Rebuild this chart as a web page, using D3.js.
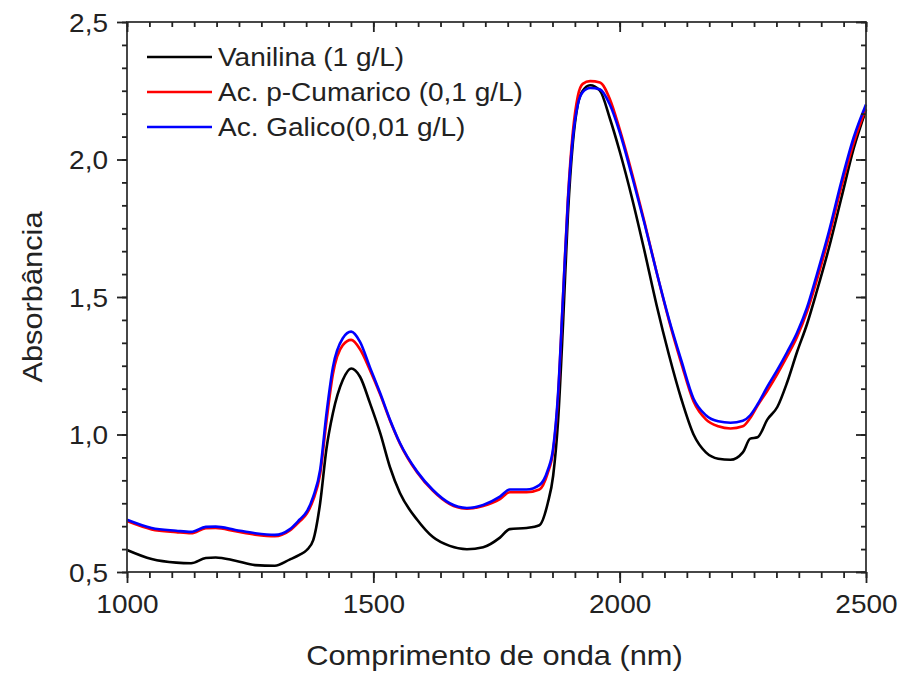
<!DOCTYPE html>
<html>
<head>
<meta charset="utf-8">
<script src="https://cdn.jsdelivr.net/npm/d3@7"></script>
<style>
	body { margin: 0; background: #fff; }
	text { font-family: "Liberation Sans", Arial, sans-serif; fill: #222; }
</style>
</head>
<body>
<div id="chart-area"></div>
<script>
// spectra (nm -> absorbance)
const wavelength = [1000, 1050, 1100, 1130, 1160, 1180, 1220, 1260, 1300, 1330, 1350, 1365, 1378, 1392, 1405, 1418, 1438, 1455, 1473, 1493, 1514, 1534, 1554, 1589, 1621, 1655, 1690, 1723, 1757, 1777, 1811, 1837, 1854, 1865, 1875, 1885, 1895, 1905, 1915, 1925, 1940, 1960, 1980, 2000, 2025, 2050, 2075, 2100, 2125, 2150, 2175, 2200, 2225, 2250, 2265, 2280, 2300, 2320, 2340, 2360, 2380, 2400, 2425, 2450, 2475, 2500];
const vanilina = [0.58, 0.547, 0.534, 0.532, 0.551, 0.553, 0.541, 0.525, 0.523, 0.545, 0.562, 0.58, 0.616, 0.75, 0.95, 1.078, 1.198, 1.24, 1.21, 1.115, 1.005, 0.88, 0.787, 0.69, 0.627, 0.595, 0.583, 0.59, 0.625, 0.656, 0.66, 0.67, 0.75, 0.85, 1.05, 1.4, 1.8, 2.06, 2.2, 2.25, 2.27, 2.25, 2.15, 2.03, 1.86, 1.67, 1.47, 1.29, 1.13, 1.0, 0.935, 0.912, 0.908, 0.935, 0.985, 0.99, 1.055, 1.1, 1.19, 1.3, 1.4, 1.52, 1.68, 1.86, 2.04, 2.18];
const cumarico = [0.685, 0.655, 0.645, 0.641, 0.659, 0.66, 0.648, 0.636, 0.63, 0.65, 0.683, 0.712, 0.762, 0.855, 1.05, 1.22, 1.325, 1.344, 1.31, 1.235, 1.145, 1.05, 0.967, 0.862, 0.795, 0.747, 0.73, 0.74, 0.765, 0.79, 0.79, 0.8, 0.86, 0.94, 1.14, 1.5, 1.86, 2.1, 2.23, 2.275, 2.285, 2.28, 2.22, 2.11, 1.95, 1.775, 1.59, 1.415, 1.26, 1.12, 1.055, 1.03, 1.022, 1.03, 1.06, 1.105, 1.16, 1.22, 1.285, 1.355, 1.445, 1.56, 1.72, 1.9, 2.06, 2.185];
const galico = [0.69, 0.66, 0.65, 0.646, 0.664, 0.665, 0.653, 0.641, 0.635, 0.655, 0.69, 0.72, 0.774, 0.871, 1.078, 1.245, 1.35, 1.374, 1.337, 1.245, 1.15, 1.053, 0.969, 0.865, 0.798, 0.75, 0.733, 0.744, 0.774, 0.8, 0.8, 0.816, 0.87, 0.95, 1.15, 1.5, 1.85, 2.08, 2.2, 2.245, 2.26, 2.255, 2.2, 2.1, 1.94, 1.77, 1.59, 1.42, 1.27, 1.13, 1.07, 1.048, 1.043, 1.05, 1.07, 1.11, 1.175, 1.235, 1.3, 1.37, 1.46, 1.58, 1.74, 1.92, 2.08, 2.2];

const seriesNames = ["Vanilina (1 g/L)", "Ac. p-Cumarico (0,1 g/L)", "Ac. Galico(0,01 g/L)"];
const seriesValues = [vanilina, cumarico, galico];
const seriesColors = ["#000000", "#ff0000", "#0000ff"];

const xTicks = [1000, 1500, 2000, 2500];
const yTicks = [0.5, 1.0, 1.5, 2.0, 2.5];

const svgWidth = 921,
	svgHeight = 673;
const margin = {left: 127, right: 55, top: 22, bottom: 101};
const areaWidth = svgWidth - margin.left - margin.right;
const areaHeight = svgHeight - margin.top - margin.bottom;
const stretch = 1.12; // the source text is a bit wider than Arial

const svg = d3.select("#chart-area")
	.append("svg")
	.attr("width", svgWidth)
	.attr("height", svgHeight);

const area = svg.append("g")
	.attr("transform", `translate(${margin.left}, ${margin.top})`);

const x = d3.scaleLinear().domain([1000, 2500]).range([0, areaWidth]);
const y = d3.scaleLinear().domain([0.5, 2.5]).range([areaHeight, 0]);

const locale = d3.formatLocale({decimal: ",", thousands: ".", grouping: [3], currency: ["", ""]});
const yFormat = locale.format(".1f");

// minor ticks: 11 steps between x majors, 6 between y majors
const xMinor = d3.range(34).map(i => 1000 + i * 500 / 11);
const yMinor = d3.range(25).map(i => 0.5 + i / 12);

// curves first, frame and ticks on top
const lineGen = d3.line()
	.x(d => x(d[0]))
	.y(d => y(d[1]))
	.curve(d3.curveMonotoneX);

seriesValues.forEach((values, i) => {
	area.append("path")
		.datum(wavelength.map((w, j) => [w, values[j]]))
		.attr("fill", "none")
		.attr("stroke", seriesColors[i])
		.attr("stroke-width", 2.6)
		.attr("stroke-linejoin", "round")
		.attr("d", lineGen);
});

area.append("rect")
	.attr("width", areaWidth)
	.attr("height", areaHeight)
	.attr("fill", "none")
	.attr("stroke", "#333")
	.attr("stroke-width", 1.8);

function tickGroup(axis, transform) {
	const g = area.append("g")
		.attr("transform", transform)
		.call(axis);
	g.select(".domain").remove();
	g.selectAll(".tick line").attr("stroke", "#222").attr("stroke-width", 1.8);
	return g;
}

// bottom / left, outward ticks
tickGroup(d3.axisBottom(x).tickValues(xMinor).tickSize(6).tickFormat(""), `translate(0, ${areaHeight})`);
const xAxisGroup = tickGroup(d3.axisBottom(x).tickValues(xTicks).tickSize(11).tickFormat(d3.format("d")), `translate(0, ${areaHeight})`);
xAxisGroup.selectAll("text")
	.attr("y", 41)
	.attr("dy", null)
	.attr("font-size", "25px")
	.attr("transform", `scale(${stretch}, 1)`);

tickGroup(d3.axisLeft(y).tickValues(yMinor).tickSize(5).tickFormat(""), "translate(0, 0)");
const yAxisGroup = tickGroup(d3.axisLeft(y).tickValues(yTicks).tickSize(10).tickFormat(yFormat), "translate(0, 0)");
yAxisGroup.selectAll("text")
	.attr("x", -19 / stretch)
	.attr("dy", "0.36em")
	.attr("font-size", "25px")
	.attr("transform", `scale(${stretch}, 1)`);

// top / right, inward ticks
tickGroup(d3.axisTop(x).tickValues(xMinor).tickSize(-5).tickFormat(""), "translate(0, 0)");
tickGroup(d3.axisTop(x).tickValues(xTicks).tickSize(-10).tickFormat(""), "translate(0, 0)");
tickGroup(d3.axisRight(y).tickValues(yMinor).tickSize(-5).tickFormat(""), `translate(${areaWidth}, 0)`);
tickGroup(d3.axisRight(y).tickValues(yTicks).tickSize(-10).tickFormat(""), `translate(${areaWidth}, 0)`);

// legend
const legend = area.append("g").attr("transform", "translate(20, 35)");
seriesNames.forEach((name, i) => {
	legend.append("line")
		.attr("x1", 0)
		.attr("x2", 65)
		.attr("y1", i * 35)
		.attr("y2", i * 35)
		.attr("stroke", seriesColors[i])
		.attr("stroke-width", 2.6);
	legend.append("text")
		.attr("transform", `translate(71, ${i * 35 + 9}) scale(${stretch}, 1)`)
		.attr("font-size", "25px")
		.text(name);
});

// axis titles
area.append("text")
	.attr("transform", `translate(${areaWidth / 2 - 2}, ${areaHeight + 93}) scale(${stretch}, 1)`)
	.attr("font-size", "27.5px")
	.attr("text-anchor", "middle")
	.text("Comprimento de onda (nm)");

area.append("text")
	.attr("transform", `translate(-85, ${areaHeight / 2}) rotate(-90) scale(1.1, 1)`)
	.attr("font-size", "28px")
	.attr("text-anchor", "middle")
	.text("Absorbância");
</script>
</body>
</html>
